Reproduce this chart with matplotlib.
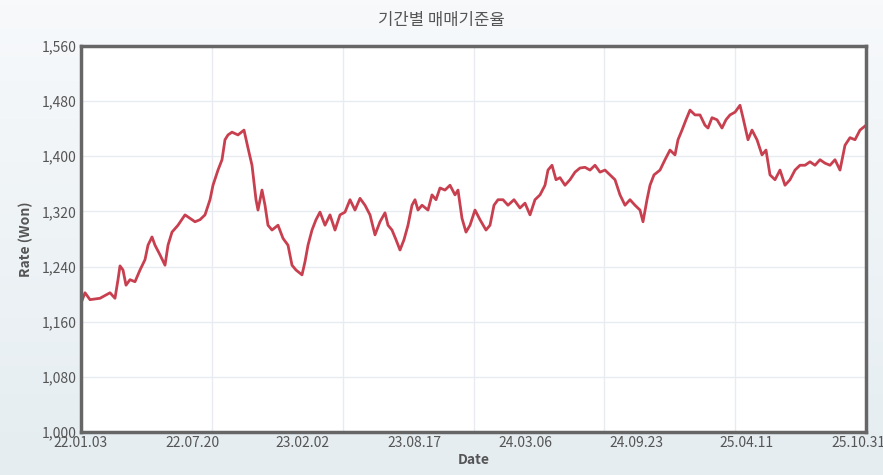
import matplotlib
matplotlib.use("Agg")
import matplotlib.pyplot as plt
import numpy as np
from matplotlib.colors import LinearSegmentedColormap

plt.rcParams['font.family'] = ['Noto Sans CJK KR', 'DejaVu Sans']

# x position in trading-day index units, rate in won
xpos = [0,4,9,19,29,34,37,39,42,45,49,54,59,64,67,71,74,79,84,87,91,97,104,109,114,119,124,129,132,137,141,144,147,151,157,163,167,171,175,177,181,184,187,191,197,202,207,211,215,221,224,227,231,235,239,244,249,254,259,264,269,274,279,284,289,294,299,304,307,311,315,319,323,327,331,334,337,341,347,351,355,359,364,369,374,377,381,385,389,394,399,405,409,413,417,422,427,433,439,444,449,454,459,464,467,471,475,479,484,489,494,499,504,509,514,519,524,529,534,539,544,549,554,559,562,566,569,573,579,584,589,594,597,601,605,609,614,619,624,627,631,636,641,645,649,654,659,662,667,671,676,681,685,689,694,699,704,709,714,719,724,729,734,739,744,749,754,759,764,769,774,779,785]
rate = [1187,1202,1192,1194,1202,1194,1221,1241,1235,1213,1221,1218,1235,1250,1271,1283,1271,1257,1242,1271,1290,1300,1315,1310,1305,1308,1315,1337,1358,1380,1395,1424,1431,1435,1431,1438,1412,1387,1337,1322,1351,1329,1300,1293,1300,1281,1271,1242,1235,1228,1247,1271,1293,1308,1319,1300,1315,1293,1315,1319,1337,1322,1339,1329,1315,1286,1305,1318,1300,1293,1279,1264,1279,1300,1329,1337,1322,1329,1322,1344,1337,1354,1351,1358,1344,1351,1310,1290,1300,1322,1308,1293,1300,1329,1337,1337,1329,1337,1325,1332,1315,1337,1344,1358,1380,1387,1366,1369,1358,1366,1377,1383,1384,1380,1387,1377,1380,1373,1366,1344,1329,1337,1329,1322,1305,1337,1358,1373,1380,1395,1409,1402,1424,1438,1453,1467,1460,1460,1445,1441,1456,1453,1441,1453,1460,1464,1474,1456,1424,1438,1424,1402,1409,1373,1366,1380,1358,1366,1380,1387,1387,1392,1387,1395,1390,1387,1395,1380,1416,1427,1424,1438,1445]
grid_pos = [0,131,262,393,523,654,785]
label_pos = [0,111,222,333,444,555,666,777]
tick_labels = ['22.01.03','22.07.20','23.02.02','23.08.17','24.03.06','24.09.23','25.04.11','25.10.31']
yticks = [1000,1080,1160,1240,1320,1400,1480,1560]

fig = plt.figure(figsize=(8.83,4.75), dpi=100)
bg = fig.add_axes([0,0,1,1], zorder=-10)
grad = np.linspace(0,1,100).reshape(-1,1)
cm = LinearSegmentedColormap.from_list('g', ['#e5edf1', '#f7f9fb'])
bg.imshow(grad, aspect='auto', cmap=cm, extent=[0,1,0,1], origin='lower')
bg.axis('off')

ax = fig.add_axes([81/883, 1-432/475, 785/883, 386/475])
ax.set_facecolor('white')
ax.plot(xpos, rate, color='#c8404f', lw=2)
ax.set_xlim(0,785)
ax.set_ylim(1000,1560)
ax.set_xticks(grid_pos, minor=True)
ax.set_xticks(label_pos)
ax.set_xticklabels(tick_labels, fontsize=10, color='#555555')
ax.set_yticks(yticks)
ax.set_yticklabels([f'{v:,}' for v in yticks], fontsize=10, color='#555555')
ax.tick_params(which='both', length=0, pad=3)
ax.grid(True, which='minor', axis='x', color='#e8ecf0', lw=1)
ax.grid(True, which='major', axis='y', color='#e8ecf0', lw=1)
for s in ax.spines.values():
    s.set_color('#666666'); s.set_linewidth(2.5)
ax.set_xlabel('Date', fontsize=10, fontweight='bold', color='#555555', labelpad=2)
ax.set_ylabel('Rate (Won)', fontsize=10, fontweight='bold', color='#555555', labelpad=6)
fig.text(0.5, 1-20/475, '기간별 매매기준율', ha='center', va='center', fontsize=12, color='#555555')
fig.savefig('out.png', dpi=100)
